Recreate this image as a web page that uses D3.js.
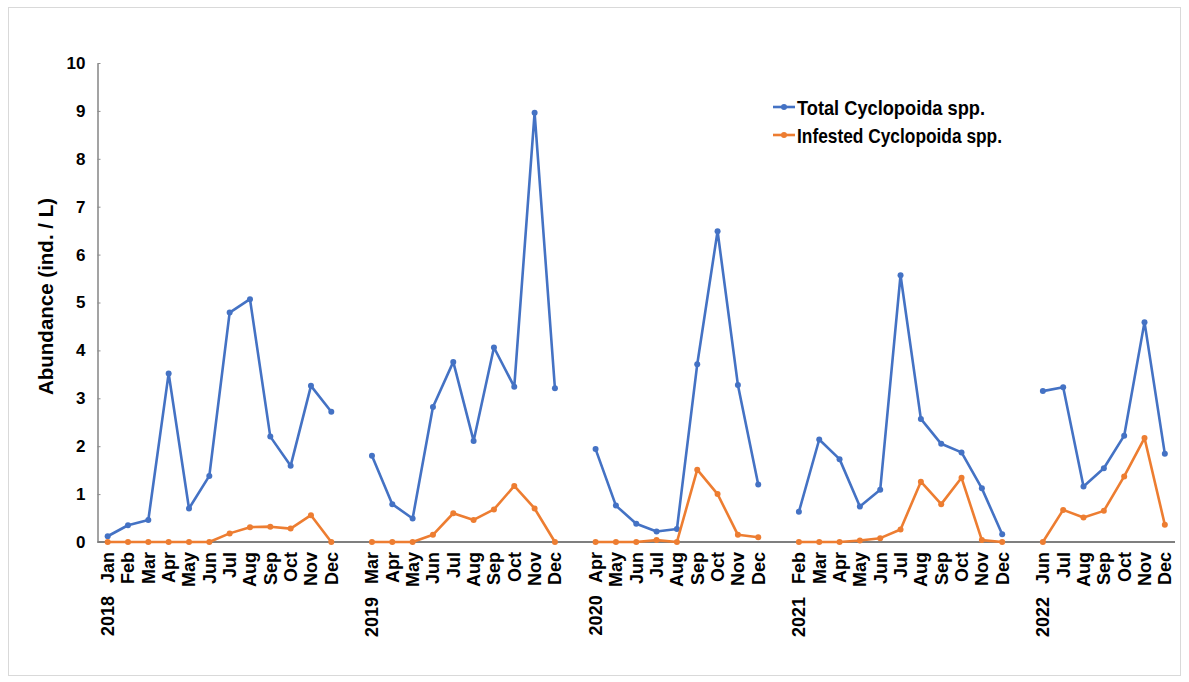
<!DOCTYPE html>
<html>
<head>
<meta charset="utf-8">
<script src="https://cdn.jsdelivr.net/npm/d3@7/dist/d3.min.js"></script>
<style>
  html, body { margin: 0; padding: 0; background: #ffffff; }
  svg { display: block; }
  text { font-family: "Liberation Sans", Arial, sans-serif; font-weight: bold; fill: #000; }
</style>
</head>
<body>
<svg id="chart" width="1189" height="682"></svg>
<script>
// Monthly sampling periods; empty strings separate the sampling years
const labels = [
  "2018 Jan","Feb","Mar","Apr","May","Jun","Jul","Aug","Sep","Oct","Nov","Dec",
  "",
  "2019 Mar","Apr","May","Jun","Jul","Aug","Sep","Oct","Nov","Dec",
  "",
  "2020 Apr","May","Jun","Jul","Aug","Sep","Oct","Nov","Dec",
  "",
  "2021 Feb","Mar","Apr","May","Jun","Jul","Aug","Sep","Oct","Nov","Dec",
  "",
  "2022 Jun","Jul","Aug","Sep","Oct","Nov","Dec"
];

// Abundance (ind. / L)
const totalCyclopoida = [
  0.12,0.35,0.46,3.52,0.70,1.38,4.79,5.07,2.20,1.59,3.26,2.72,
  null,
  1.80,0.79,0.49,2.82,3.76,2.11,4.06,3.24,8.96,3.21,
  null,
  1.94,0.76,0.38,0.22,0.27,3.71,6.49,3.28,1.20,
  null,
  0.63,2.14,1.73,0.74,1.09,5.57,2.57,2.05,1.87,1.12,0.16,
  null,
  3.15,3.23,1.16,1.54,2.22,4.59,1.84
];

const infestedCyclopoida = [
  0,0,0,0,0,0,0.18,0.31,0.32,0.28,0.56,0,
  null,
  0,0,0,0.15,0.60,0.46,0.68,1.17,0.70,0,
  null,
  0,0,0,0.04,0,1.51,1.00,0.15,0.10,
  null,
  0,0,0,0.03,0.08,0.26,1.26,0.79,1.34,0.04,0,
  null,
  0,0.67,0.51,0.65,1.37,2.17,0.36
];

const yTicks = [0,1,2,3,4,5,6,7,8,9,10];

const seriesNames = ["Total Cyclopoida spp.", "Infested Cyclopoida spp."];
const seriesColors = ["#4472c4", "#ed7d31"];

const svg = d3.select("#chart");

// outer frame
svg.append("rect")
  .attr("x", 8.5).attr("y", 7.5)
  .attr("width", 1172).attr("height", 668)
  .attr("fill", "none").attr("stroke", "#d9d9d9").attr("stroke-width", 1);

const plot = { left: 97.5, right: 1175, top: 63, bottom: 542 };

const x = d3.scaleBand()
  .domain(d3.range(labels.length))
  .range([plot.left, plot.right]);
const cx = i => x(i) + x.bandwidth() / 2;

const y = d3.scaleLinear()
  .domain([0, 10])
  .range([plot.bottom, plot.top]);

// y axis
const yAxis = svg.append("g")
  .attr("transform", `translate(${plot.left},0)`)
  .call(d3.axisLeft(y).tickValues(yTicks).tickSize(-3).tickSizeOuter(0).tickPadding(12));
yAxis.select(".domain").attr("stroke", "#8c8c8c").attr("stroke-width", 1.6);
yAxis.selectAll(".tick line").attr("stroke", "#8c8c8c").attr("stroke-width", 1);
yAxis.selectAll(".tick text")
  .attr("font-size", 17)
  .attr("font-family", "'Liberation Sans', Arial, sans-serif")
  .attr("font-weight", "bold")
  .attr("fill", "#000");

// y axis title
svg.append("text")
  .attr("transform", `translate(53,${(plot.top + plot.bottom) / 2 - 6}) rotate(-90)`)
  .attr("text-anchor", "middle")
  .attr("font-size", 20.5)
  .text("Abundance (ind. / L)");

// x axis baseline
svg.append("line")
  .attr("x1", plot.left).attr("x2", plot.right)
  .attr("y1", y(0)).attr("y2", y(0))
  .attr("stroke", "#7f7f7f").attr("stroke-width", 2);

// category labels, rotated
const xl = svg.append("g").selectAll("text")
  .data(labels.map((l, i) => ({ l, i })).filter(d => d.l !== ""))
  .join("text")
  .attr("transform", d => `translate(${cx(d.i)},552) rotate(-90)`)
  .attr("text-anchor", "end")
  .attr("dy", "0.36em")
  .attr("font-size", 18);
xl.each(function (d) {
  const t = d3.select(this);
  const parts = d.l.split(" ");
  if (parts.length === 2) {
    t.append("tspan").text(parts[0]);
    t.append("tspan").attr("dx", 8).text(" " + parts[1]);
  } else {
    t.text(d.l);
  }
});

// series lines and markers
const line = d3.line()
  .defined(d => d.v !== null)
  .x(d => cx(d.i))
  .y(d => y(d.v));

[totalCyclopoida, infestedCyclopoida].forEach((vals, k) => {
  const pts = vals.map((v, i) => ({ v, i }));
  const g = svg.append("g");
  g.append("path")
    .datum(pts)
    .attr("d", line)
    .attr("fill", "none")
    .attr("stroke", seriesColors[k])
    .attr("stroke-width", 2.6)
    .attr("stroke-linejoin", "round");
  g.selectAll("circle")
    .data(pts.filter(d => d.v !== null))
    .join("circle")
    .attr("cx", d => cx(d.i))
    .attr("cy", d => y(d.v))
    .attr("r", 3)
    .attr("fill", seriesColors[k]);
});

// legend (condensed lettering)
const legendWidths = [188, 205];
const legend = svg.append("g");
seriesNames.forEach((name, k) => {
  const ly = 107 + k * 28;
  legend.append("line")
    .attr("x1", 773).attr("x2", 795)
    .attr("y1", ly).attr("y2", ly)
    .attr("stroke", seriesColors[k]).attr("stroke-width", 2.6);
  legend.append("circle")
    .attr("cx", 784).attr("cy", ly).attr("r", 3)
    .attr("fill", seriesColors[k]);
  legend.append("text")
    .attr("x", 797).attr("y", ly + 8)
    .attr("font-size", 21)
    .attr("textLength", legendWidths[k])
    .attr("lengthAdjust", "spacingAndGlyphs")
    .text(name);
});
</script>
</body>
</html>
